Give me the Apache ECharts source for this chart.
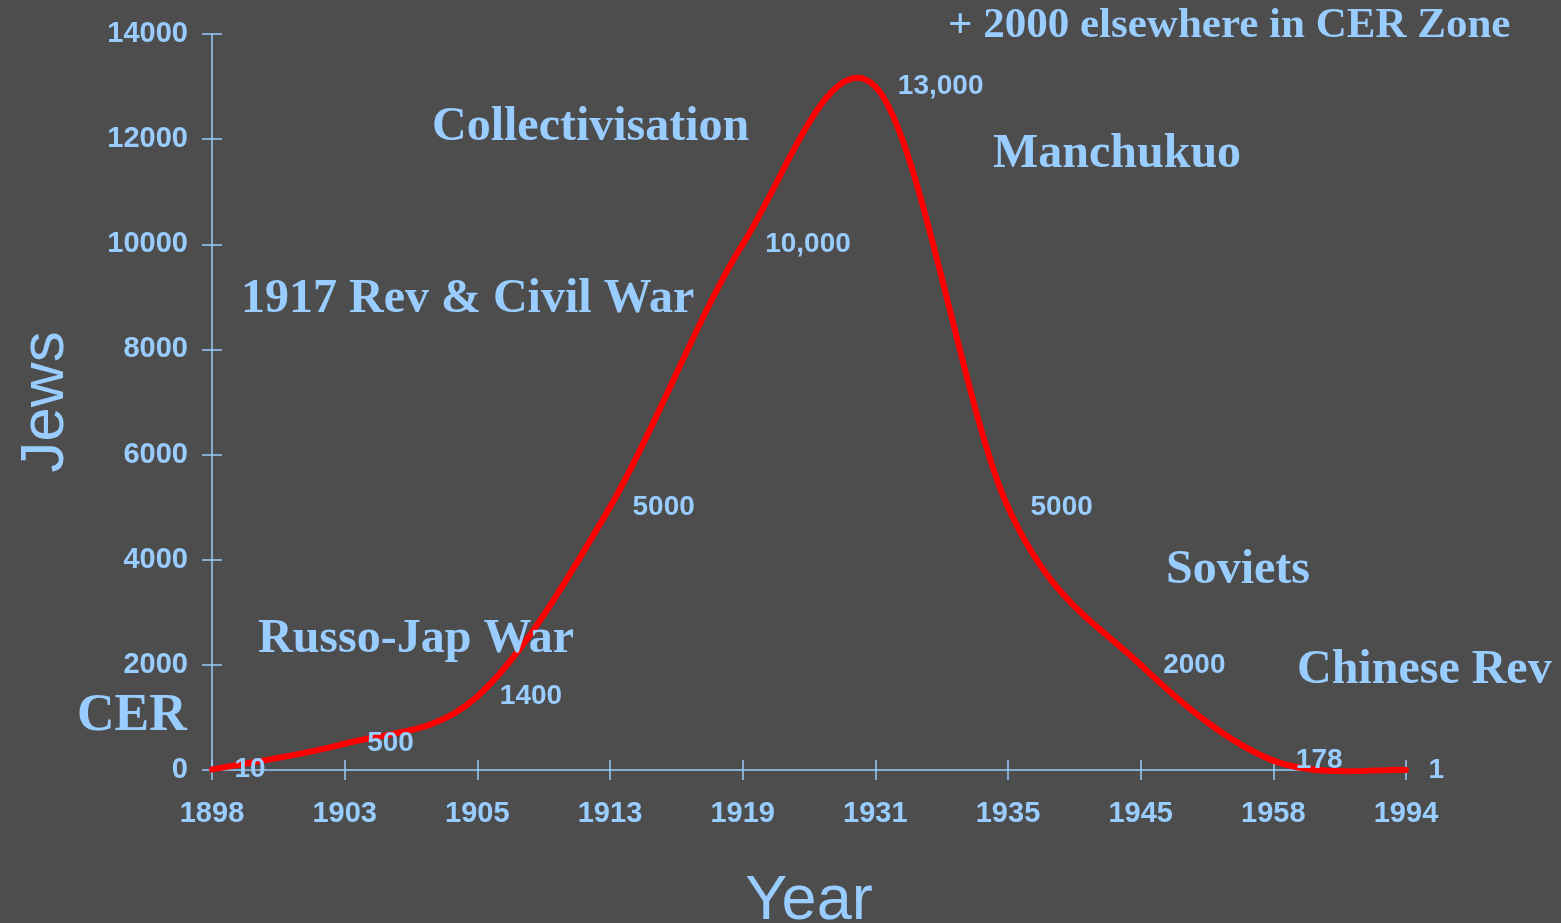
<!DOCTYPE html>
<html>
<head>
<meta charset="utf-8">
<script src="https://cdn.jsdelivr.net/npm/echarts@6/dist/echarts.min.js"></script>
<style>
html,body{margin:0;padding:0;background:#4d4d4d;}
#chart{width:1561px;height:923px;}
</style>
</head>
<body>
<div id="chart"></div>
<script>
const years = ['1898','1903','1905','1913','1919','1931','1935','1945','1958','1994'];
const jews = [10, 500, 1400, 5000, 10000, 13000, 5000, 2000, 178, 1];
const pointLabels = ['10','500','1400','5000','10,000','13,000','5000','2000','178','1'];
const yTicks = [0, 2000, 4000, 6000, 8000, 10000, 12000, 14000];

const blue = '#99ccff';
const sans = '"Liberation Sans", Arial, sans-serif';
const serifFont = 'bold 48px "Liberation Serif", "Times New Roman", serif';

const chart = echarts.init(document.getElementById('chart'));
function ann(text, x, y, font) {
  return {
    type: 'text', x: x, y: y, z: 10,
    style: { text: text, font: font || serifFont, fill: blue, align: 'left', verticalAlign: 'middle' }
  };
}
// Excel-style smoothed segment (Catmull-Rom, tension 1/6) through library coordinates
function renderSegment(params, api) {
  const i = params.dataIndex;
  const n = jews.length;
  if (i >= n - 1) return null;
  const pt = k => api.coord([Math.max(0, Math.min(n - 1, k)), jews[Math.max(0, Math.min(n - 1, k))]]);
  const p0 = pt(i - 1), p1 = pt(i), p2 = pt(i + 1), p3 = pt(i + 2);
  return {
    type: 'bezierCurve',
    shape: {
      x1: p1[0], y1: p1[1], x2: p2[0], y2: p2[1],
      cpx1: p1[0] + (p2[0] - p0[0]) / 6, cpy1: p1[1] + (p2[1] - p0[1]) / 6,
      cpx2: p2[0] - (p3[0] - p1[0]) / 6, cpy2: p2[1] - (p3[1] - p1[1]) / 6
    },
    style: { stroke: '#ff0000', lineWidth: 6, fill: null, lineCap: 'round', lineJoin: 'round' }
  };
}
const option = {
  backgroundColor: '#4d4d4d',
  animation: false,
  grid: { left: 212, right: 155, top: 34, bottom: 153, containLabel: false, outerBoundsMode: 'none' },
  xAxis: [{
    type: 'category', data: years, boundaryGap: false,
    name: 'Year', nameLocation: 'middle', nameGap: 100,
    nameTextStyle: { color: blue, fontSize: 63, fontFamily: sans },
    axisLine: { lineStyle: { color: blue, width: 1.5 } },
    axisTick: { show: true, alignWithLabel: true, length: 10, lineStyle: { color: blue, width: 1.5 } },
    axisLabel: { color: blue, fontSize: 29, fontWeight: 'bold', fontFamily: sans, margin: 29, interval: 0 },
    splitLine: { show: false }
  }, {
    type: 'category', data: years, boundaryGap: false, position: 'bottom',
    axisLine: { show: false },
    axisTick: { show: true, inside: true, alignWithLabel: true, length: 10, lineStyle: { color: blue, width: 1.5 } },
    axisLabel: { show: false }, splitLine: { show: false }
  }],
  yAxis: [{
    type: 'value', min: yTicks[0], max: yTicks[yTicks.length - 1], interval: 2000,
    name: 'Jews', nameLocation: 'middle', nameGap: 135, nameRotate: 90,
    nameTextStyle: { color: blue, fontSize: 62, fontFamily: sans },
    axisLine: { show: true, lineStyle: { color: blue, width: 1.5 } },
    axisTick: { show: true, length: 10, lineStyle: { color: blue, width: 1.5 } },
    axisLabel: { color: blue, fontSize: 29, fontWeight: 'bold', fontFamily: sans, margin: 24, formatter: v => String(v) },
    splitLine: { show: false }
  }, {
    type: 'value', min: yTicks[0], max: yTicks[yTicks.length - 1], interval: 2000, position: 'left',
    axisLine: { show: false },
    axisTick: { show: true, inside: true, length: 10, lineStyle: { color: blue, width: 1.5 } },
    axisLabel: { show: false }, splitLine: { show: false }
  }],
  series: [{
    type: 'custom', data: jews.map((v, i) => [i, v]),
    encode: { x: 0, y: 1 },
    renderItem: renderSegment, z: 5
  }, {
    type: 'line', data: jews,
    symbol: 'circle', symbolSize: 1,
    itemStyle: { color: 'rgba(0,0,0,0)' },
    lineStyle: { opacity: 0, width: 0 },
    label: {
      show: true, position: 'right', distance: 22,
      color: blue, fontSize: 28, fontWeight: 'bold', fontFamily: sans,
      formatter: p => pointLabels[p.dataIndex]
    },
    z: 6
  }],
  graphic: [
    ann('+ 2000 elsewhere in CER Zone', 948, 26, 'bold 43px "Liberation Serif", serif'),
    ann('Collectivisation', 432, 128),
    ann('Manchukuo', 993, 155),
    ann('1917 Rev & Civil War', 241, 300),
    ann('Russo-Jap War', 258, 640),
    ann('CER', 77, 717, 'bold 52px "Liberation Serif", serif'),
    ann('Soviets', 1166, 571),
    ann('Chinese Rev', 1297, 671)
  ]
};
chart.setOption(option);
</script>
</body>
</html>
